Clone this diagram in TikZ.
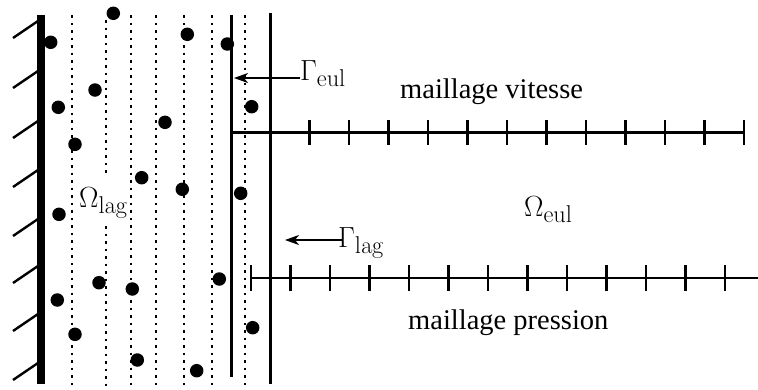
\documentclass[tikz,border=0pt]{standalone}
\usepackage[no-math]{fontspec}
\setmainfont{Liberation Serif}
\usetikzlibrary{arrows.meta}
\begin{document}
\begin{tikzpicture}[x=1pt,y=-1pt,
  wallline/.style={line width=7.5pt},
  hatchline/.style={line width=2.4pt},
  dotline/.style={line width=2.8pt, dash pattern=on 2.8pt off 4.7pt},
  sline/.style={line width=2.4pt},
  meshline/.style={line width=2.6pt},
  tickline/.style={line width=2.4pt},
  particle/.style={circle, fill=black, inner sep=0pt, minimum size=13.5pt},
  lbl/.style={inner sep=0pt, anchor=base west, font=\fontsize{28.5}{34}\selectfont},
  mlbl/.style={inner sep=0pt, anchor=base west, font=\fontsize{24.88}{30}\selectfont},
  arr/.style={line width=1.6pt, -{Stealth[length=14pt,width=10pt,inset=4pt]}}
]
\useasboundingbox (0,0) rectangle (758,389);
% wall
\draw[wallline] (41,15) -- (41,384);
\foreach \y in {38,88,138,187,236,283,331,380}
  \draw[hatchline] (13,\y) -- ++(25,-17);
% dotted lines
\foreach \x in {72,131,156,184,212,245}
  \draw[dotline] (\x,15) -- (\x,387);
\draw[dotline] (106,20) -- (106,175);
\draw[dotline] (106,226) -- (106,387);
% solid interface lines
\draw[sline] (231.5,15) -- (231.5,377);
\draw[sline] (270.5,13) -- (270.5,384);
% particles
\foreach [count=\i] \x/\y in {50.7/42.3, 113.3/13.3, 187.3/34.3, 227.3/44, 95/90, 58.3/107.3,
  251.7/106.7, 165/122.3, 75/144.3, 141.7/177.7, 182.3/189.3, 240.7/193.3,
  59/214.3, 99/282.7, 132.3/289, 219.3/279, 57.3/300, 252.7/327.7, 75/334.3,
  137.3/360, 196.7/370.7}
  \node[particle] (p\i) at (\x,\y) {};
% velocity mesh
\draw[meshline] (231,132.5) -- (744,132.5);
\foreach \k in {1,...,12}
  \draw[tickline] ({270+39.5*\k},120) -- ++(0,25);
% pressure mesh
\draw[meshline] (251,278) -- (758,278);
\foreach \k in {0,...,12}
  \draw[tickline] ({251+39.5*\k},265) -- ++(0,26);
% labels
\node[lbl] (mv) at (400,98) {maillage vitesse};
\node[lbl] (mp) at (408,329) {maillage pression};
\node[mlbl] (oe) at (524,216) {\scalebox{1.17}{$\Omega_{\mathrm{eul}}$}};
\node[mlbl] (ol) at (79,207) {\scalebox{1.17}{$\Omega_{\mathrm{lag}}$}};
\node[mlbl] (ge) at (300,80) {\scalebox{1.17}{$\Gamma_{\mathrm{eul}}$}};
\node[mlbl] (gl) at (338,247) {\scalebox{1.17}{$\Gamma_{\mathrm{lag}}$}};
% arrows
\coordinate (geA) at (300,78);
\coordinate (geT) at (234,78);
\draw[arr] (geA) -- (geT);
\coordinate (glA) at (342,240);
\coordinate (glT) at (285,240);
\draw[arr] (glA) -- (glT);
\end{tikzpicture}
\end{document}
